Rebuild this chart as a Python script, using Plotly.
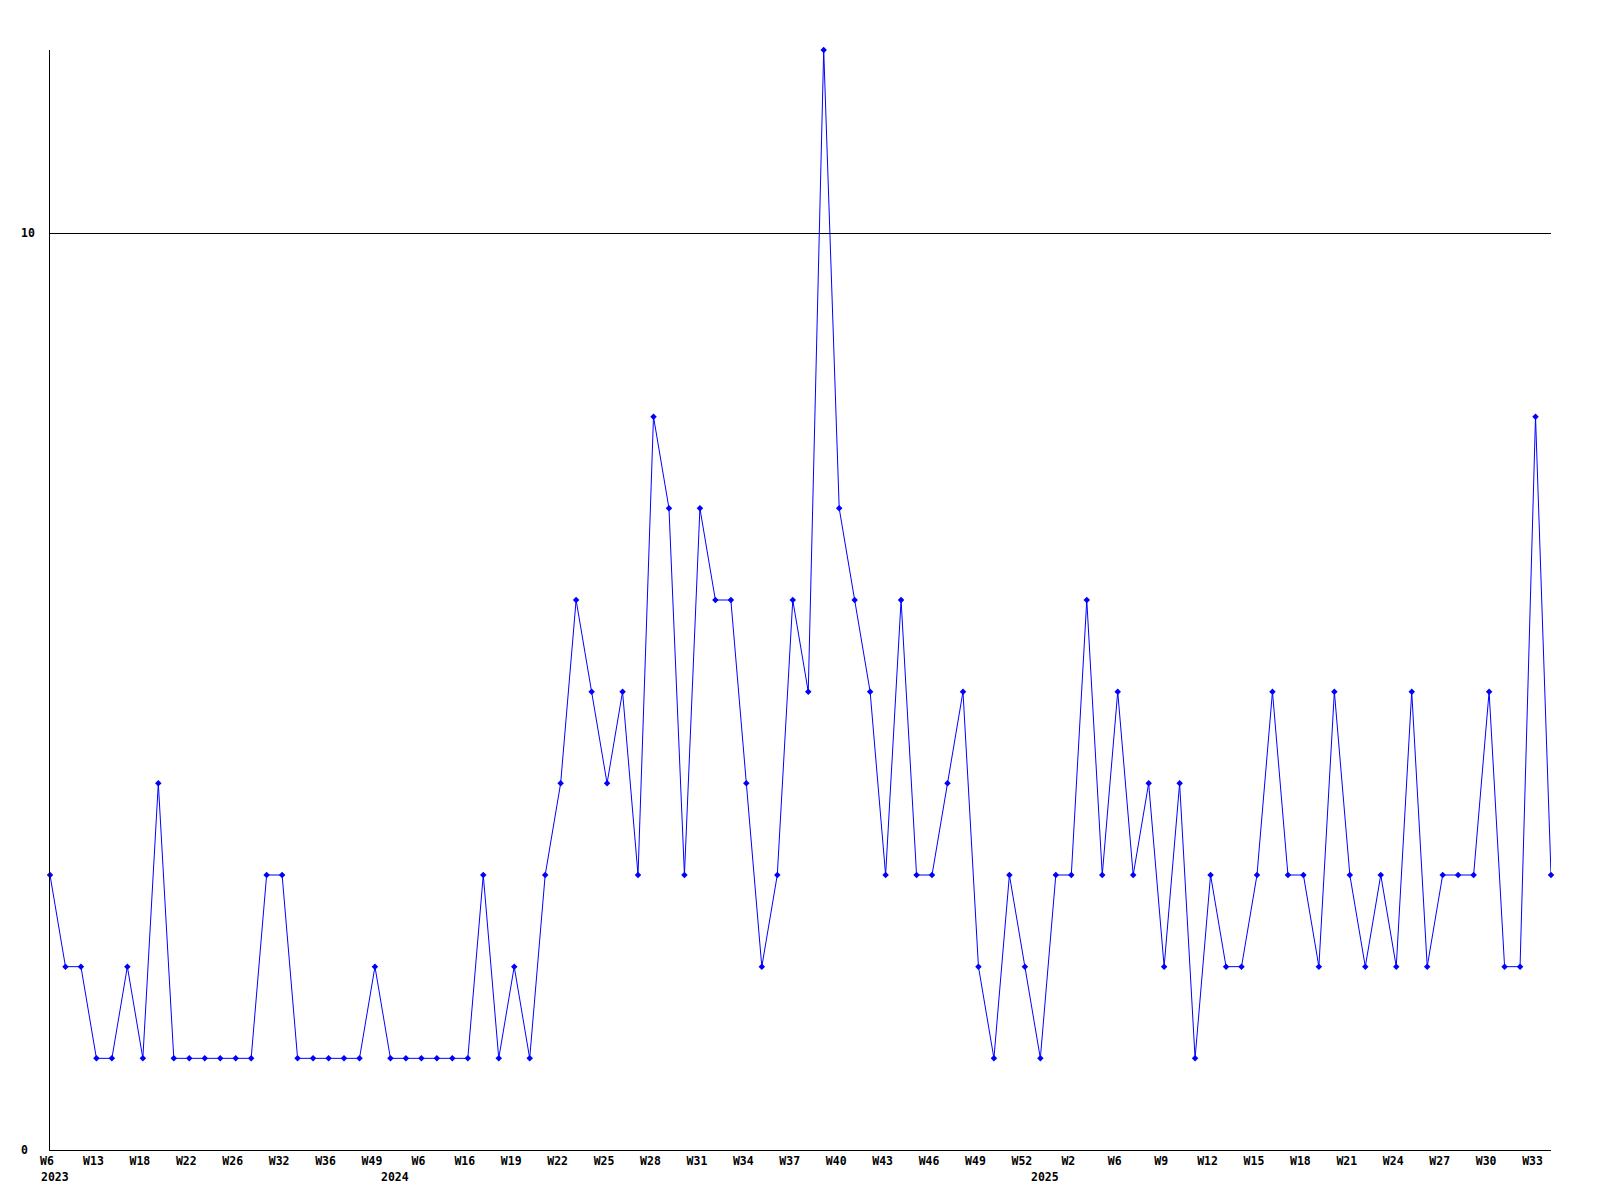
import plotly.graph_objects as go

values = [3, 2, 2, 1, 1, 2, 1, 4, 1, 1, 1, 1, 1, 1, 3, 3, 1, 1, 1, 1,
          1, 2, 1, 1, 1, 1, 1, 1, 3, 1, 2, 1, 3, 4, 6, 5, 4, 5, 3, 8,
          7, 3, 7, 6, 6, 4, 2, 3, 6, 5, 12, 7, 6, 5, 3, 6, 3, 3, 4, 5,
          2, 1, 3, 2, 1, 3, 3, 6, 3, 5, 3, 4, 2, 4, 1, 3, 2, 2, 3, 5,
          3, 3, 2, 5, 3, 2, 3, 2, 5, 2, 3, 3, 3, 5, 2, 2, 8, 3]

week_labels = ["W6", "W13", "W18", "W22", "W26", "W32", "W36", "W49", "W6", "W16",
               "W19", "W22", "W25", "W28", "W31", "W34", "W37", "W40", "W43", "W46",
               "W49", "W52", "W2", "W6", "W9", "W12", "W15", "W18", "W21", "W24",
               "W27", "W30", "W33"]
label_step = 3

year_labels = ["2023", "2024", "2025"]
year_start_index = [0, 22, 64]

y_tick_values = [0, 10]
y_max = 12

FONT = "DejaVu Sans Mono"
x_idx = list(range(len(values)))

fig = go.Figure()
fig.add_trace(go.Scatter(
    x=x_idx, y=values, mode="lines+markers",
    line=dict(color="#0000FF", width=1),
    marker=dict(symbol="diamond", size=5, color="#0000FF"),
    cliponaxis=False, hoverinfo="skip",
))

fig.update_layout(
    width=1584, height=1184,
    margin=dict(l=42, r=41, t=42, b=42),
    plot_bgcolor="white", paper_bgcolor="white",
    showlegend=False,
    font=dict(family=FONT, size=11.5, color="black"),
)

fig.update_xaxes(
    range=[0, len(values) - 1],
    tickmode="array",
    tickvals=x_idx[::label_step][:len(week_labels)],
    ticktext=week_labels,
    tickfont=dict(family=FONT, size=11.5, color="black", weight="bold"),
    ticks="", showgrid=False, zeroline=False,
    showline=True, linecolor="black", linewidth=1,
    ticklabelshift=-3,
)
fig.update_yaxes(
    range=[0, y_max],
    tickmode="array", tickvals=y_tick_values,
    showticklabels=False, ticks="",
    showgrid=True, gridcolor="black", gridwidth=1,
    zeroline=False, showline=True, linecolor="black", linewidth=1,
)

for v in y_tick_values:
    fig.add_annotation(
        x=0, xref="paper", y=v, yref="y", text=f"<b>{v}</b>",
        showarrow=False, xanchor="left", yanchor="middle", xshift=-31,
        font=dict(family=FONT, size=11.5, color="black"),
    )

for txt, idx in zip(year_labels, year_start_index):
    fig.add_annotation(
        x=idx, xref="x", y=0, yref="paper", text=f"<b>{txt}</b>",
        showarrow=False, xanchor="left", yanchor="top", xshift=-11, yshift=-18,
        font=dict(family=FONT, size=11.5, color="black"),
    )

fig.write_html("out.html")
